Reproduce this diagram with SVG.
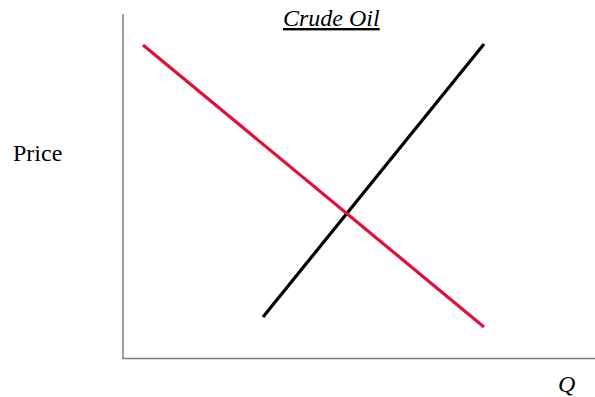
<svg xmlns="http://www.w3.org/2000/svg" width="595" height="397" viewBox="0 0 595 397">
<style>
.t{font-family:'Liberation Serif','DejaVu Serif',serif;font-size:24px;fill:#000}
.i{font-style:italic}
.ax{stroke:#7f7f7f;stroke-width:1.5;fill:none}
.curve{stroke-width:3.2;fill:none;stroke-linecap:butt}
</style>
<rect width="595" height="397" fill="#fff"/>
<g id="axes">
<line class="ax" x1="123" y1="14" x2="123" y2="359"/>
<line class="ax" x1="122.5" y1="358.5" x2="595" y2="358.5"/>
</g>
<g id="connectors">
<line id="supply" class="curve" stroke="#000" x1="263" y1="317" x2="484" y2="44"/>
<line id="demand" class="curve" stroke="#e0103a" x1="143" y1="45" x2="484" y2="327"/>
</g>
<g id="title"><text class="t i" font-family="Liberation Serif, serif" x="283" y="26" text-decoration="underline">Crude Oil</text></g>
<g id="ylabel"><text class="t" font-family="Liberation Serif, serif" x="13" y="161">Price</text></g>
<g id="xlabel"><text class="t i" font-family="Liberation Serif, serif" x="558" y="392">Q</text></g>
</svg>
